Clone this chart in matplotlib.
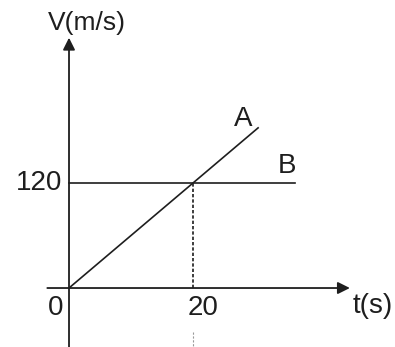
# Velocity-time graph for two bodies A and B
import matplotlib.pyplot as plt

plt.rc('font', family='Liberation Sans')

# body A: uniform acceleration from rest
t_a = [0, 30.5]
v_a = [0, 183]
# body B: constant velocity
t_b = [0, 36.5]
v_b = [120, 120]
# meeting point markers
t_meet = 20
v_meet = 120
xticks = [0, 20]
yticks = [120]

ink = '#1e1e1e'
fig = plt.figure(figsize=(3.95, 3.47), dpi=100)
ax = fig.add_axes([0, 0, 1, 1])
ax.set_xlim(-11.13, 52.58)
ax.set_ylim(-67.4, 329.1)
ax.axis('off')

# axes with arrowheads
ax.annotate('', xy=(0, 286), xytext=(0, -67.4),
            arrowprops=dict(arrowstyle='-|>', color=ink, lw=1.3,
                            mutation_scale=18, shrinkA=0, shrinkB=0))
ax.annotate('', xy=(45.3, 0), xytext=(-3.5, 0),
            arrowprops=dict(arrowstyle='-|>', color=ink, lw=1.3,
                            mutation_scale=18, shrinkA=0, shrinkB=0))

ax.plot(t_a, v_a, color=ink, lw=1.2)
ax.plot(t_b, v_b, color=ink, lw=1.2)
ax.plot([t_meet, t_meet], [0, v_meet], color=ink, lw=1.2,
        linestyle=(0, (2, 1.2)))
ax.plot([t_meet, t_meet], [-50, -67.4], color='#999999', lw=0.8,
        linestyle=(0, (2, 1.5)))

ax.text(2.9, 303, 'V(m/s)', fontsize=19, ha='center', va='center', color=ink)
ax.text(52.3, -20.6, 't(s)', fontsize=20, ha='right', va='center', color=ink)
ax.text(-1.1, v_meet, str(yticks[0]), fontsize=20, ha='right', va='center', color=ink)
ax.text(-2.1, -23, str(xticks[0]), fontsize=20, ha='center', va='center', color=ink)
ax.text(xticks[1] - 0.8, -23, str(xticks[1]), fontsize=20, ha='left', va='center', color=ink)
ax.text(28.1, 193, 'A', fontsize=20, ha='center', va='center', color=ink)
ax.text(35.2, 139, 'B', fontsize=20, ha='center', va='center', color=ink)

fig.savefig('out.png', dpi=100)
